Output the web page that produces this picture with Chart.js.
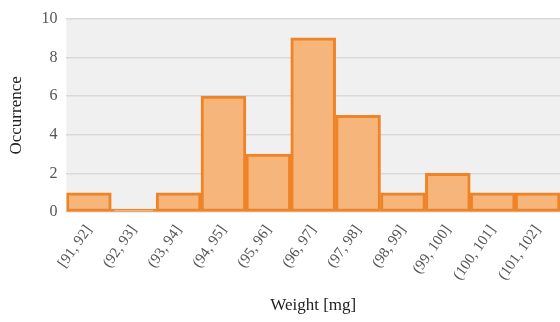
<!DOCTYPE html>
<html>
<head>
<meta charset="utf-8">
<script src="https://cdn.jsdelivr.net/npm/chart.js@4/dist/chart.umd.min.js"></script>
<style>
  html, body { margin: 0; padding: 0; background: #fff; }
  #wrap { width: 560px; height: 322px; }
</style>
</head>
<body>
<div id="wrap"><canvas id="canvas"></canvas></div>
<script>
// weight classes and how many tablets fell in each
var clases = ['[91, 92]', '(92, 93]', '(93, 94]', '(94, 95]', '(95, 96]', '(96, 97]',
              '(97, 98]', '(98, 99]', '(99, 100]', '(100, 101]', '(101, 102]'];
var conteos = [1, 0, 1, 6, 3, 9, 5, 1, 2, 1, 1];
var ticksY = [0, 2, 4, 6, 8, 10];

// grey fill behind the plot area
var fondo = {
    id: 'fondo',
    beforeDraw: function(chart) {
        var a = chart.chartArea;
        var c = chart.ctx;
        c.save();
        c.fillStyle = '#f0f0f0';
        c.fillRect(a.left, a.top, a.right - a.left, a.bottom - a.top);
        c.restore();
    }
};

Chart.defaults.font.family = '"Liberation Serif", "Times New Roman", serif';
Chart.defaults.color = '#555';

var ctx = document.getElementById('canvas');
var myChart = new Chart(ctx, {
    type: 'bar',
    data: {
        labels: clases,
        datasets: [{
            data: conteos,
            backgroundColor: '#f6b57a',
            borderColor: '#ef8326',
            borderWidth: 3,
            borderSkipped: false,
            minBarLength: 3,
            barPercentage: 1,
            categoryPercentage: 1
        }]
    },
    options: {
        responsive: true,
        maintainAspectRatio: false,
        animation: false,
        layout: { padding: { top: 10, right: 0, left: 2, bottom: 2 } },
        plugins: { legend: { display: false }, tooltip: { enabled: false } },
        scales: {
            x: {
                grid: { display: false },
                border: { display: false },
                ticks: { minRotation: 55, maxRotation: 55, font: { size: 15 }, color: '#555', padding: 2 },
                title: { display: true, text: 'Weight [mg]', color: '#222', font: { size: 17 }, padding: { top: 10 } }
            },
            y: {
                min: 0,
                max: 10,
                afterBuildTicks: function(axis) {
                    axis.ticks = ticksY.map(function(v) { return { value: v }; });
                },
                grid: { color: '#d9d9d9', lineWidth: 1.5, drawTicks: false },
                border: { display: false },
                ticks: { font: { size: 16 }, color: '#555', padding: 9 },
                title: { display: true, text: 'Occurrence', color: '#222', font: { size: 17 }, padding: { bottom: 6 } }
            }
        }
    },
    plugins: [fondo]
});
</script>
</body>
</html>
